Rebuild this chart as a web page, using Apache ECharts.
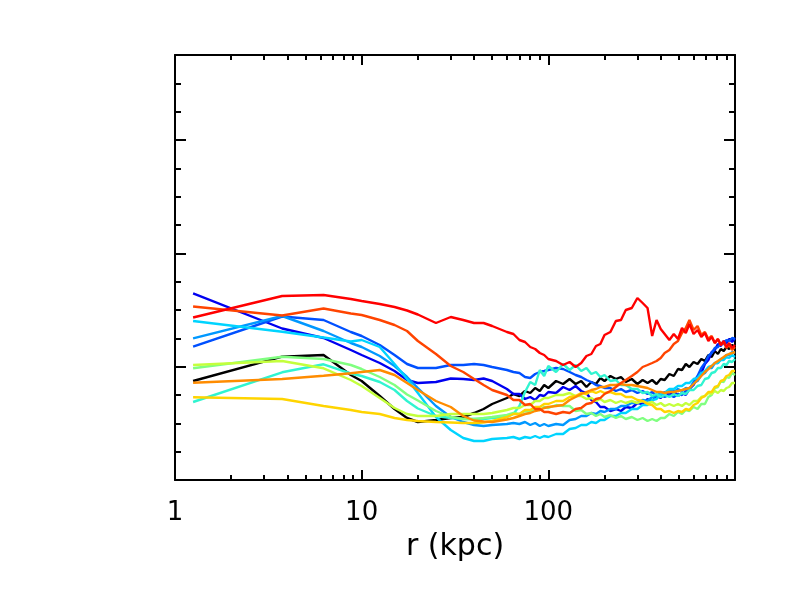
<!DOCTYPE html>
<html>
<head>
<meta charset="utf-8">
<script src="https://cdn.jsdelivr.net/npm/echarts@6/dist/echarts.min.js"></script>
<style>
    html, body { margin: 0; background: #fff; }
    #chart { width: 786px; height: 591px; }
</style>
</head>
<body>
<div id="chart"></div>
<script>
// radius bins (kpc)
const radius = [1.25, 3.75, 6.25, 8.75, 10, 12.5, 15, 17.5, 20, 25, 30, 35, 40, 45, 50,
    60, 65, 70, 75, 80, 85, 90, 95, 100, 110,
    120, 130, 140, 150, 160, 170, 180, 190, 200, 215,
    230, 245, 260, 280, 300, 320, 340, 360, 380, 400,
    420, 445, 470, 495, 520, 545, 570, 600, 630, 660,
    690, 720, 750, 780, 810, 840, 870, 900, 930, 965, 1000];

// profiles, y in plot units (axis carries no labels)
const black = [99, 123.3, 125, 105, 99, 84, 71, 62, 58, 60, 62, 63, 67, 71, 76,
    82, 86, 84, 89, 87, 92, 89, 95, 92, 99,
    96, 101, 96, 99, 93, 98, 96, 102, 99, 104,
    101, 103, 98, 101, 96, 100, 97, 100, 96, 101,
    100, 106, 104, 111, 110, 116, 113, 118, 116, 121,
    119, 125, 123, 129, 126, 131, 129, 133, 131, 135, 133];
const darkBlue = [186.7, 151.5, 142, 130, 125, 117, 109, 100, 97, 98, 101.5, 101, 100, 101.5, 99,
    91, 86, 86, 81, 83, 80, 85, 84, 88, 87,
    93, 90, 94, 89, 87, 80, 78, 73, 73, 69,
    71, 69, 73, 72, 77, 76, 81, 79, 84, 82,
    88, 85, 89, 84, 87, 85, 91, 95, 103, 107,
    116, 120, 128, 130, 136, 134, 139, 137, 141, 138, 142];
const midBlue = [133.3, 163.5, 160, 148, 144, 135, 125, 116, 112, 112, 115, 115, 116, 115, 113,
    110, 108, 107, 103, 102, 106, 108, 109, 110, 112,
    111, 108, 105, 103, 100, 98, 95, 94, 92, 92,
    89, 91, 88, 90, 87, 89, 86, 88, 84, 86,
    83, 85, 83, 86, 85, 89, 91, 98, 104, 112,
    117, 124, 127, 132, 133, 137, 136, 140, 139, 142, 141];
const lightBlue = [141.7, 164, 149, 137, 133, 124, 114, 103, 92, 74, 63, 58, 55, 54, 55,
    56, 57, 56, 58, 55, 57, 54, 56, 54, 56,
    55, 60, 61, 64, 64, 67, 66, 69, 68, 71,
    71, 74, 74, 77, 77, 80, 79, 83, 84, 87,
    87, 90, 88, 91, 89, 92, 91, 97, 99, 105,
    107, 112, 112, 117, 117, 121, 121, 125, 125, 128, 127];
const cyan = [159, 148.3, 142.5, 138.5, 140, 133, 116, 101, 87, 63, 50, 42, 39, 39, 41,
    42, 43, 41, 43, 42, 44, 42, 44, 43, 46,
    46, 51, 52, 55, 55, 58, 57, 60, 60, 64,
    64, 67, 67, 71, 71, 75, 75, 80, 81, 86,
    87, 91, 91, 94, 94, 97, 97, 101, 102, 107,
    109, 113, 114, 117, 117, 120, 120, 123, 122, 125, 123];
const turquoise = [78, 107.7, 115.7, 106.5, 104, 98, 90, 79, 71.5, 64, 62, 61, 61, 61, 62,
    63, 66, 74, 88, 98, 95, 110, 104, 114, 108,
    116, 110, 115, 109, 112, 106, 108, 103, 105, 99,
    100, 95, 95, 91, 91, 87, 88, 84, 86, 83,
    85, 83, 86, 84, 87, 86, 90, 90, 94, 95,
    101, 102, 107, 108, 112, 112, 116, 115, 119, 118, 121];
const lightGreen = [111.7, 123.3, 121, 115, 111, 103, 95, 85.5, 79.5, 69, 63, 61, 61, 62, 63,
    65, 67, 66, 69, 68, 71, 70, 73, 72, 75,
    74, 74, 69, 70, 66, 67, 64, 66, 63, 65,
    62, 64, 61, 63, 60, 62, 59, 61, 59, 62,
    62, 66, 64, 68, 66, 70, 69, 73, 71, 76,
    76, 83, 85, 92, 93, 99, 98, 103, 102, 107, 105];
const yellowGreen = [115, 119, 111.7, 100, 94, 82, 72, 66, 64, 64, 66, 66, 66, 66, 67,
    70, 72, 72, 75, 75, 79, 79, 82, 82, 85,
    85, 87, 84, 84, 81, 82, 79, 81, 78, 80,
    77, 79, 77, 79, 77, 79, 77, 78, 75, 77,
    74, 76, 74, 76, 74, 77, 75, 79, 79, 83,
    84, 87, 86, 89, 87, 90, 89, 92, 93, 97, 97];
const yellow = [82.7, 81, 74, 70, 68, 66, 62, 60, 59, 58, 57.5, 57, 57, 57.5, 59,
    63, 66, 66, 70, 70, 73, 73, 76, 76, 79,
    79, 83, 84, 87, 86, 89, 87, 89, 87, 88,
    86, 86, 83, 83, 80, 79, 76, 75, 71, 71,
    68, 69, 67, 69, 68, 71, 70, 75, 77, 82,
    84, 88, 88, 93, 94, 99, 100, 104, 105, 109, 109];
const orange = [97.3, 101, 104.3, 106.7, 108, 110, 105, 97, 90, 79, 73, 64, 59.5, 58.5, 58,
    60.5, 62, 64, 66, 67, 69, 70, 72, 73, 74,
    75, 80, 83, 86, 88, 90, 91, 93, 93, 95,
    95, 96, 95, 95, 94, 93, 92, 90, 88, 88,
    87, 88, 88, 89, 90, 91, 92, 96, 100, 104,
    108, 111, 114, 117, 119, 121, 123, 125, 126, 127, 128];
const redOrange = [173.5, 164.5, 171.5, 166.5, 165, 160, 155, 149, 139, 126, 114, 108, 101, 95, 90,
    85, 80, 80, 75, 76, 71, 71, 68, 68, 66,
    68, 67, 71, 72, 76, 77, 81, 82, 86, 89,
    93, 97, 100, 104, 108, 113, 115, 117, 119, 122,
    127, 130, 136, 139, 147, 152, 160, 150, 154, 145,
    148, 141, 144, 137, 141, 135, 138, 132, 135, 130, 133];
const red = [162.5, 184, 185, 181, 179, 176, 173, 169.5, 165.5, 157, 163, 160, 157, 157, 154,
    148, 146, 140, 138, 133, 131, 127, 125, 121, 119,
    115, 118, 113, 117, 124, 126, 134, 136, 145, 148,
    159, 160, 170, 172, 182, 177, 172, 144, 160, 151,
    146, 140, 146, 141, 152, 147, 156, 146, 150, 143,
    147, 139, 143, 137, 141, 135, 139, 133, 137, 132, 135];

const profiles = [black, darkBlue, midBlue, lightBlue, cyan, turquoise, lightGreen, yellowGreen, yellow, orange, redOrange, red];
const colors = ['#000000', '#0000f0', '#0050ff', '#0098ff', '#00d4ff', '#30f4d0', '#80ff80', '#c4ff3c', '#ffd400', '#ff8c00', '#ff4400', '#ff0000'];

const xMajor = [1, 10, 100, 1000];
const xMinor = [2, 3, 4, 5, 6, 7, 8, 9, 20, 30, 40, 50, 60, 70, 80, 90, 200, 300, 400, 500, 600, 700, 800, 900];
const xLabels = [1, 10, 100];

const font = 'DejaVu Sans, sans-serif';
const black2 = { color: '#000', width: 2 };

function xAxisOf(pos, ticks, len, main) {
    return {
        type: 'log', logBase: 10, min: 1, max: 1000, position: pos,
        axisLine: { show: main, onZero: false, lineStyle: black2 },
        axisTick: { show: true, inside: true, length: len, customValues: ticks, lineStyle: black2 },
        axisLabel: { show: false },
        splitLine: { show: false }
    };
}

function yAxisOf(pos, interval, len, main) {
    return {
        type: 'value', min: 0, max: 425, interval: interval, position: pos,
        axisLine: { show: main, onZero: false, lineStyle: black2 },
        axisTick: { show: true, inside: true, length: len, lineStyle: black2 },
        axisLabel: { show: false },
        splitLine: { show: false }
    };
}

const bottom = xAxisOf('bottom', xMajor, 10, true);
bottom.axisLabel = { show: true, customValues: xLabels, fontSize: 26, color: '#000', fontFamily: font, margin: 20 };
bottom.name = 'r (kpc)';
bottom.nameLocation = 'middle';
bottom.nameGap = 52;
bottom.nameTextStyle = { fontSize: 30, color: '#000', fontFamily: font };

const chart = echarts.init(document.getElementById('chart'));
chart.setOption({
    animation: false,
    backgroundColor: '#fff',
    grid: { left: 175, top: 55, width: 560, height: 425 },
    xAxis: [
        bottom,
        xAxisOf('bottom', xMinor, 5, false),
        xAxisOf('top', xMajor, 10, true),
        xAxisOf('top', xMinor, 5, false)
    ],
    yAxis: [
        yAxisOf('left', 425 / 3.75, 11, true),
        yAxisOf('left', 425 / 15, 6, false),
        yAxisOf('right', 425 / 3.75, 11, true),
        yAxisOf('right', 425 / 15, 6, false)
    ],
    series: profiles.map((vals, k) => ({
        type: 'line',
        xAxisIndex: 0,
        yAxisIndex: 0,
        symbol: 'none',
        silent: true,
        lineStyle: { width: 2.4, color: colors[k] },
        data: radius.map((r, i) => [r, vals[i]])
    }))
});
</script>
</body>
</html>
